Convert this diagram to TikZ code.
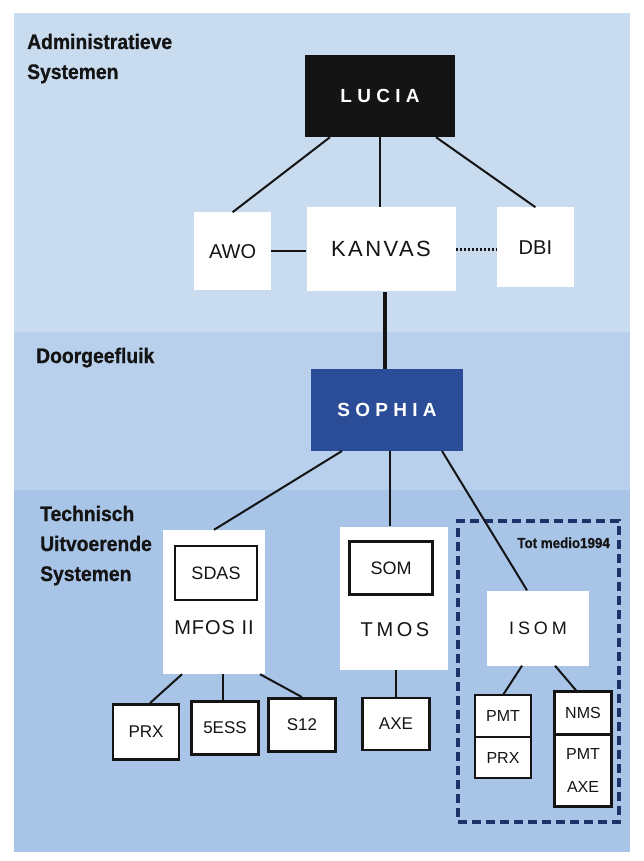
\documentclass[tikz,border=0pt]{standalone}
\usepackage{fontspec}
\setmainfont{Liberation Sans}
\newfontfamily\condfont[FakeStretch=0.92, FakeBold=0.8]{Liberation Sans}
\usetikzlibrary{positioning}

\definecolor{bandtop}{HTML}{C9DBEF}
\definecolor{bandmid}{HTML}{B8D0EB}
\definecolor{bandlow}{HTML}{A8C5E8}
\definecolor{sophiablue}{HTML}{2B4C97}
\definecolor{navyline}{HTML}{1D3268}
\definecolor{inkblack}{HTML}{141414}

\begin{document}
\begin{tikzpicture}[
    x=1pt, y=-1pt,
    chief/.style={
        inner sep=0pt,
        text=white,
        font=\bfseries\fontsize{19}{22}\selectfont\addfontfeature{LetterSpace=28}
    },
    panel/.style={
        fill=white,
        inner sep=0pt,
        text=inkblack,
        font=\fontsize{20}{24}\selectfont
    },
    leaf/.style={
        draw=inkblack,
        line width=2.8pt,
        fill=white,
        inner sep=0pt,
        text=inkblack,
        minimum width=67pt,
        minimum height=53pt,
        font=\fontsize{17}{20}\selectfont
    },
    cell/.style={
        leaf,
        outer sep=0pt,
        font=\fontsize{16}{33}\selectfont
    },
    head/.style={
        anchor=base west,
        align=left,
        inner sep=0pt,
        text=inkblack,
        font=\condfont\bfseries\fontsize{21}{30}\selectfont
    },
    link/.style={
        draw=inkblack,
        line width=2pt
    }
]
\useasboundingbox (0,0) rectangle (644,861);

% Bands
\fill[bandtop] (14,13) rectangle (630,332);
\fill[bandmid] (14,332) rectangle (630,490);
\fill[bandlow] (14,490) rectangle (630,852);

% Headings (base = last line)
\node (admin)    [head] at (27,79)  {Administratieve\\Systemen};
\node (doorgeef) [head] at (36,363) {Doorgeefluik};
\node (techn)    [head] at (40,581) {Technisch\\Uitvoerende\\Systemen};

% Nodes
\node (lucia)  [chief, fill=inkblack, minimum width=150pt, minimum height=82pt] at (380,96) {LUCIA};
\node (kanvas) [panel, minimum width=149pt, minimum height=84pt, below=70pt of lucia, xshift=1pt,
                font=\fontsize{22}{26}\selectfont\addfontfeature{LetterSpace=11}] {KANVAS};
\node (awo)    [panel, minimum width=77pt, minimum height=78pt, left=35pt of kanvas, yshift=-2pt] {AWO};
\node (dbi)    [panel, minimum width=77pt, minimum height=80pt, right=41pt of kanvas, yshift=2pt] {DBI};
\node (sophia) [chief, fill=sophiablue, minimum width=152pt, minimum height=82pt, below=77pt of kanvas, xshift=6pt] {SOPHIA};

\node (mfos)    [panel, minimum width=102pt, minimum height=144pt] at (214,602) {};
\node (sdas)    [leaf, minimum width=82pt, minimum height=54pt, font=\fontsize{18}{20}\selectfont] at (216,573) {SDAS};
\node (mfostxt) [text=inkblack, font=\fontsize{20}{24}\selectfont\addfontfeature{LetterSpace=5}] at (214,628) {MFOS II};
\node (tmos)    [panel, minimum width=108pt, minimum height=143pt] at (394,598) {};
\node (som)     [leaf, minimum width=83pt, minimum height=53pt, font=\fontsize{18}{20}\selectfont] at (391,568) {SOM};
\node (tmostxt) [text=inkblack, font=\fontsize{20}{24}\selectfont\addfontfeature{LetterSpace=18}] at (395,630) {TMOS};

\node (medio)    [draw=navyline, line width=3.5pt, dash pattern=on 9pt off 5pt,
                  minimum width=161pt, minimum height=301pt] at (538.5,671.5) {};
\node (mediotxt) [anchor=base east, inner sep=0pt, text=inkblack,
                  font=\condfont\bfseries\fontsize{14.5}{16}\selectfont] at (610,548) {Tot medio1994};
\node (isom)    [panel, minimum width=102pt, minimum height=75pt,
                 font=\fontsize{18}{22}\selectfont\addfontfeature{LetterSpace=22}] at (538,628) {ISOM};

\node (prx)     [leaf, minimum width=66pt, minimum height=55pt] at (146,732) {PRX};
\node (fiveess) [leaf] at (225,728) {5ESS};
\node (s12)     [leaf] at (302,725) {S12};
\node (axe)     [leaf, minimum height=52pt] at (396,724) {AXE};

\node (pmtl) [cell, minimum width=56pt, minimum height=42pt] at (503,716) {PMT};
\node (prxl) [cell, minimum width=56pt, minimum height=41pt, below=0pt of pmtl] {PRX};
\node (nmsr) [cell, minimum width=57pt, minimum height=43pt] at (583,713) {NMS};
\node (axer) [cell, minimum width=57pt, minimum height=72pt, below=0pt of nmsr, align=center] {PMT\\AXE};

% Lines
\draw[link] ([xshift=-50pt]lucia.south) -- (awo.north);
\draw[link] (lucia.south) -- (lucia.south |- kanvas.north);
\draw[link] ([xshift=56pt]lucia.south) -- (dbi.north);
\draw[link] (awo.east) -- (awo.east -| kanvas.west);
\draw[link, line width=2.2pt, dash pattern=on 2pt off 2pt] (kanvas.east) -- (kanvas.east -| dbi.west);
\draw[link, line width=4.5pt] ([xshift=-2pt]sophia.north) -- ([xshift=-2pt]sophia.north |- kanvas.south);

\draw[link] ([xshift=-45pt]sophia.south) -- (mfos.north);
\draw[link] ([xshift=3pt]sophia.south) -- ([xshift=3pt]sophia.south |- tmos.north);
\draw[link] ([xshift=55pt]sophia.south) -- ([xshift=-11pt]isom.north);

\draw[link] ([xshift=-32pt]mfos.south) -- ([xshift=4pt]prx.north);
\draw[link] ([xshift=9pt]mfos.south) -- ([xshift=-2pt]fiveess.north);
\draw[link] ([xshift=46pt]mfos.south) -- (s12.north);
\draw[link] (axe.north |- tmos.south) -- (axe.north);
\draw[link] ([xshift=-16pt]isom.south) -- (pmtl.north);
\draw[link] ([xshift=17pt]isom.south) -- ([xshift=-6pt]nmsr.north);

\end{tikzpicture}
\end{document}
